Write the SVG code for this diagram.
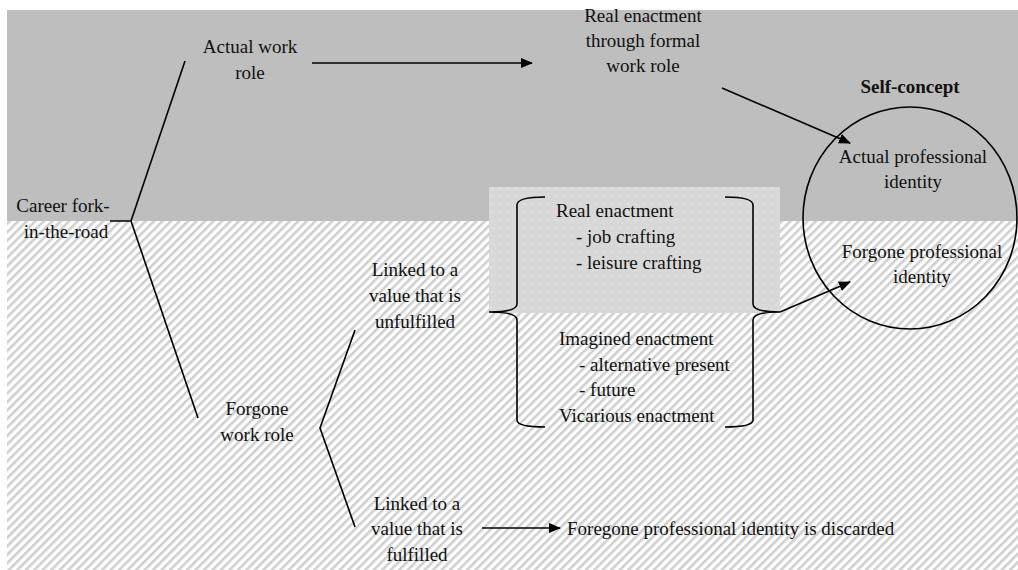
<svg xmlns="http://www.w3.org/2000/svg" width="1018" height="570" viewBox="0 0 1018 570">
<style>
text{font-family:"Liberation Serif","Times New Roman","DejaVu Serif",serif;font-size:19px;fill:#111}
.c{text-anchor:middle}
.b{font-weight:bold}
.ln{stroke:#000;stroke-width:1.6;fill:none}
.ar{stroke:#000;stroke-width:1.6;fill:none;marker-end:url(#ah)}
</style>
<defs>
<pattern id="hatch" width="6" height="6" patternUnits="userSpaceOnUse" patternTransform="rotate(45)">
<rect width="6" height="6" fill="#fff"/>
<rect width="2.6" height="6" fill="#cfcfcf"/>
</pattern>
<pattern id="dots" width="8" height="8" patternUnits="userSpaceOnUse">
<rect width="8" height="8" fill="#d8d8d8"/>
<circle cx="4" cy="4" r="0.7" fill="#ececec"/>
</pattern>
<marker id="ah" markerWidth="12" markerHeight="10" refX="11" refY="5" orient="auto" markerUnits="userSpaceOnUse">
<path d="M0,0 L12,5 L0,10 Z" fill="#000"/>
</marker>
</defs>
<rect width="1018" height="570" fill="#fff"/>
<rect x="7" y="10" width="1011" height="211" fill="#bebebe"/>
<rect x="7" y="221" width="1011" height="349" fill="url(#hatch)"/>
<rect x="489" y="187" width="291" height="126" fill="url(#dots)"/>

<g id="connectors">
<path class="ln" d="M110,221 H131 L185,61 M131,221 L198,418"/>
<path class="ln" d="M355,330 L320,428 L355,527"/>
<path class="ar" d="M312,63 H532"/>
<path class="ar" d="M722,88 L850,143"/>
<path class="ar" d="M780,312 L850,282"/>
<path class="ar" d="M482,528 H560"/>
</g>

<g id="brace-left">
<path class="ln" d="M545,197 Q517,197 517,205 V304 Q517,312 489,312 Q517,312 517,320 V420 Q517,427 545,427"/>
</g>
<g id="brace-right">
<path class="ln" d="M725,197 Q753,197 753,205 V304 Q753,312 780,312 Q753,312 753,320 V420 Q753,427 725,427"/>
</g>

<g id="career-fork">
<text class="c" x="63" y="212">Career fork-</text>
<text class="c" x="66" y="238">in-the-road</text>
</g>
<g id="actual-work-role">
<text class="c" x="250" y="53">Actual work</text>
<text class="c" x="250" y="79">role</text>
</g>
<g id="real-enactment-formal">
<text class="c" x="643" y="22">Real enactment</text>
<text class="c" x="643" y="47">through formal</text>
<text class="c" x="643" y="72">work role</text>
</g>
<g id="self-concept">
<ellipse cx="910" cy="218" rx="107" ry="111" class="ln"/>
<text class="c b" x="910" y="93">Self-concept</text>
<text class="c" x="913" y="163">Actual professional</text>
<text class="c" x="913" y="188">identity</text>
<text class="c" x="922" y="258">Forgone professional</text>
<text class="c" x="922" y="283">identity</text>
</g>
<g id="forgone-work-role">
<text class="c" x="257" y="415">Forgone</text>
<text class="c" x="257" y="441">work role</text>
</g>
<g id="unfulfilled">
<text class="c" x="415" y="276">Linked to a</text>
<text class="c" x="415" y="302">value that is</text>
<text class="c" x="415" y="328">unfulfilled</text>
</g>
<g id="fulfilled">
<text class="c" x="417" y="510">Linked to a</text>
<text class="c" x="417" y="535">value that is</text>
<text class="c" x="417" y="561">fulfilled</text>
</g>
<g id="discarded">
<text x="567" y="535">Foregone professional identity is discarded</text>
</g>
<g id="enactments">
<text x="556" y="217">Real enactment</text>
<text x="576" y="243">- job crafting</text>
<text x="576" y="269">- leisure crafting</text>
<text x="559" y="345">Imagined enactment</text>
<text x="579" y="371">- alternative present</text>
<text x="579" y="396">- future</text>
<text x="559" y="422">Vicarious enactment</text>
</g>
</svg>
